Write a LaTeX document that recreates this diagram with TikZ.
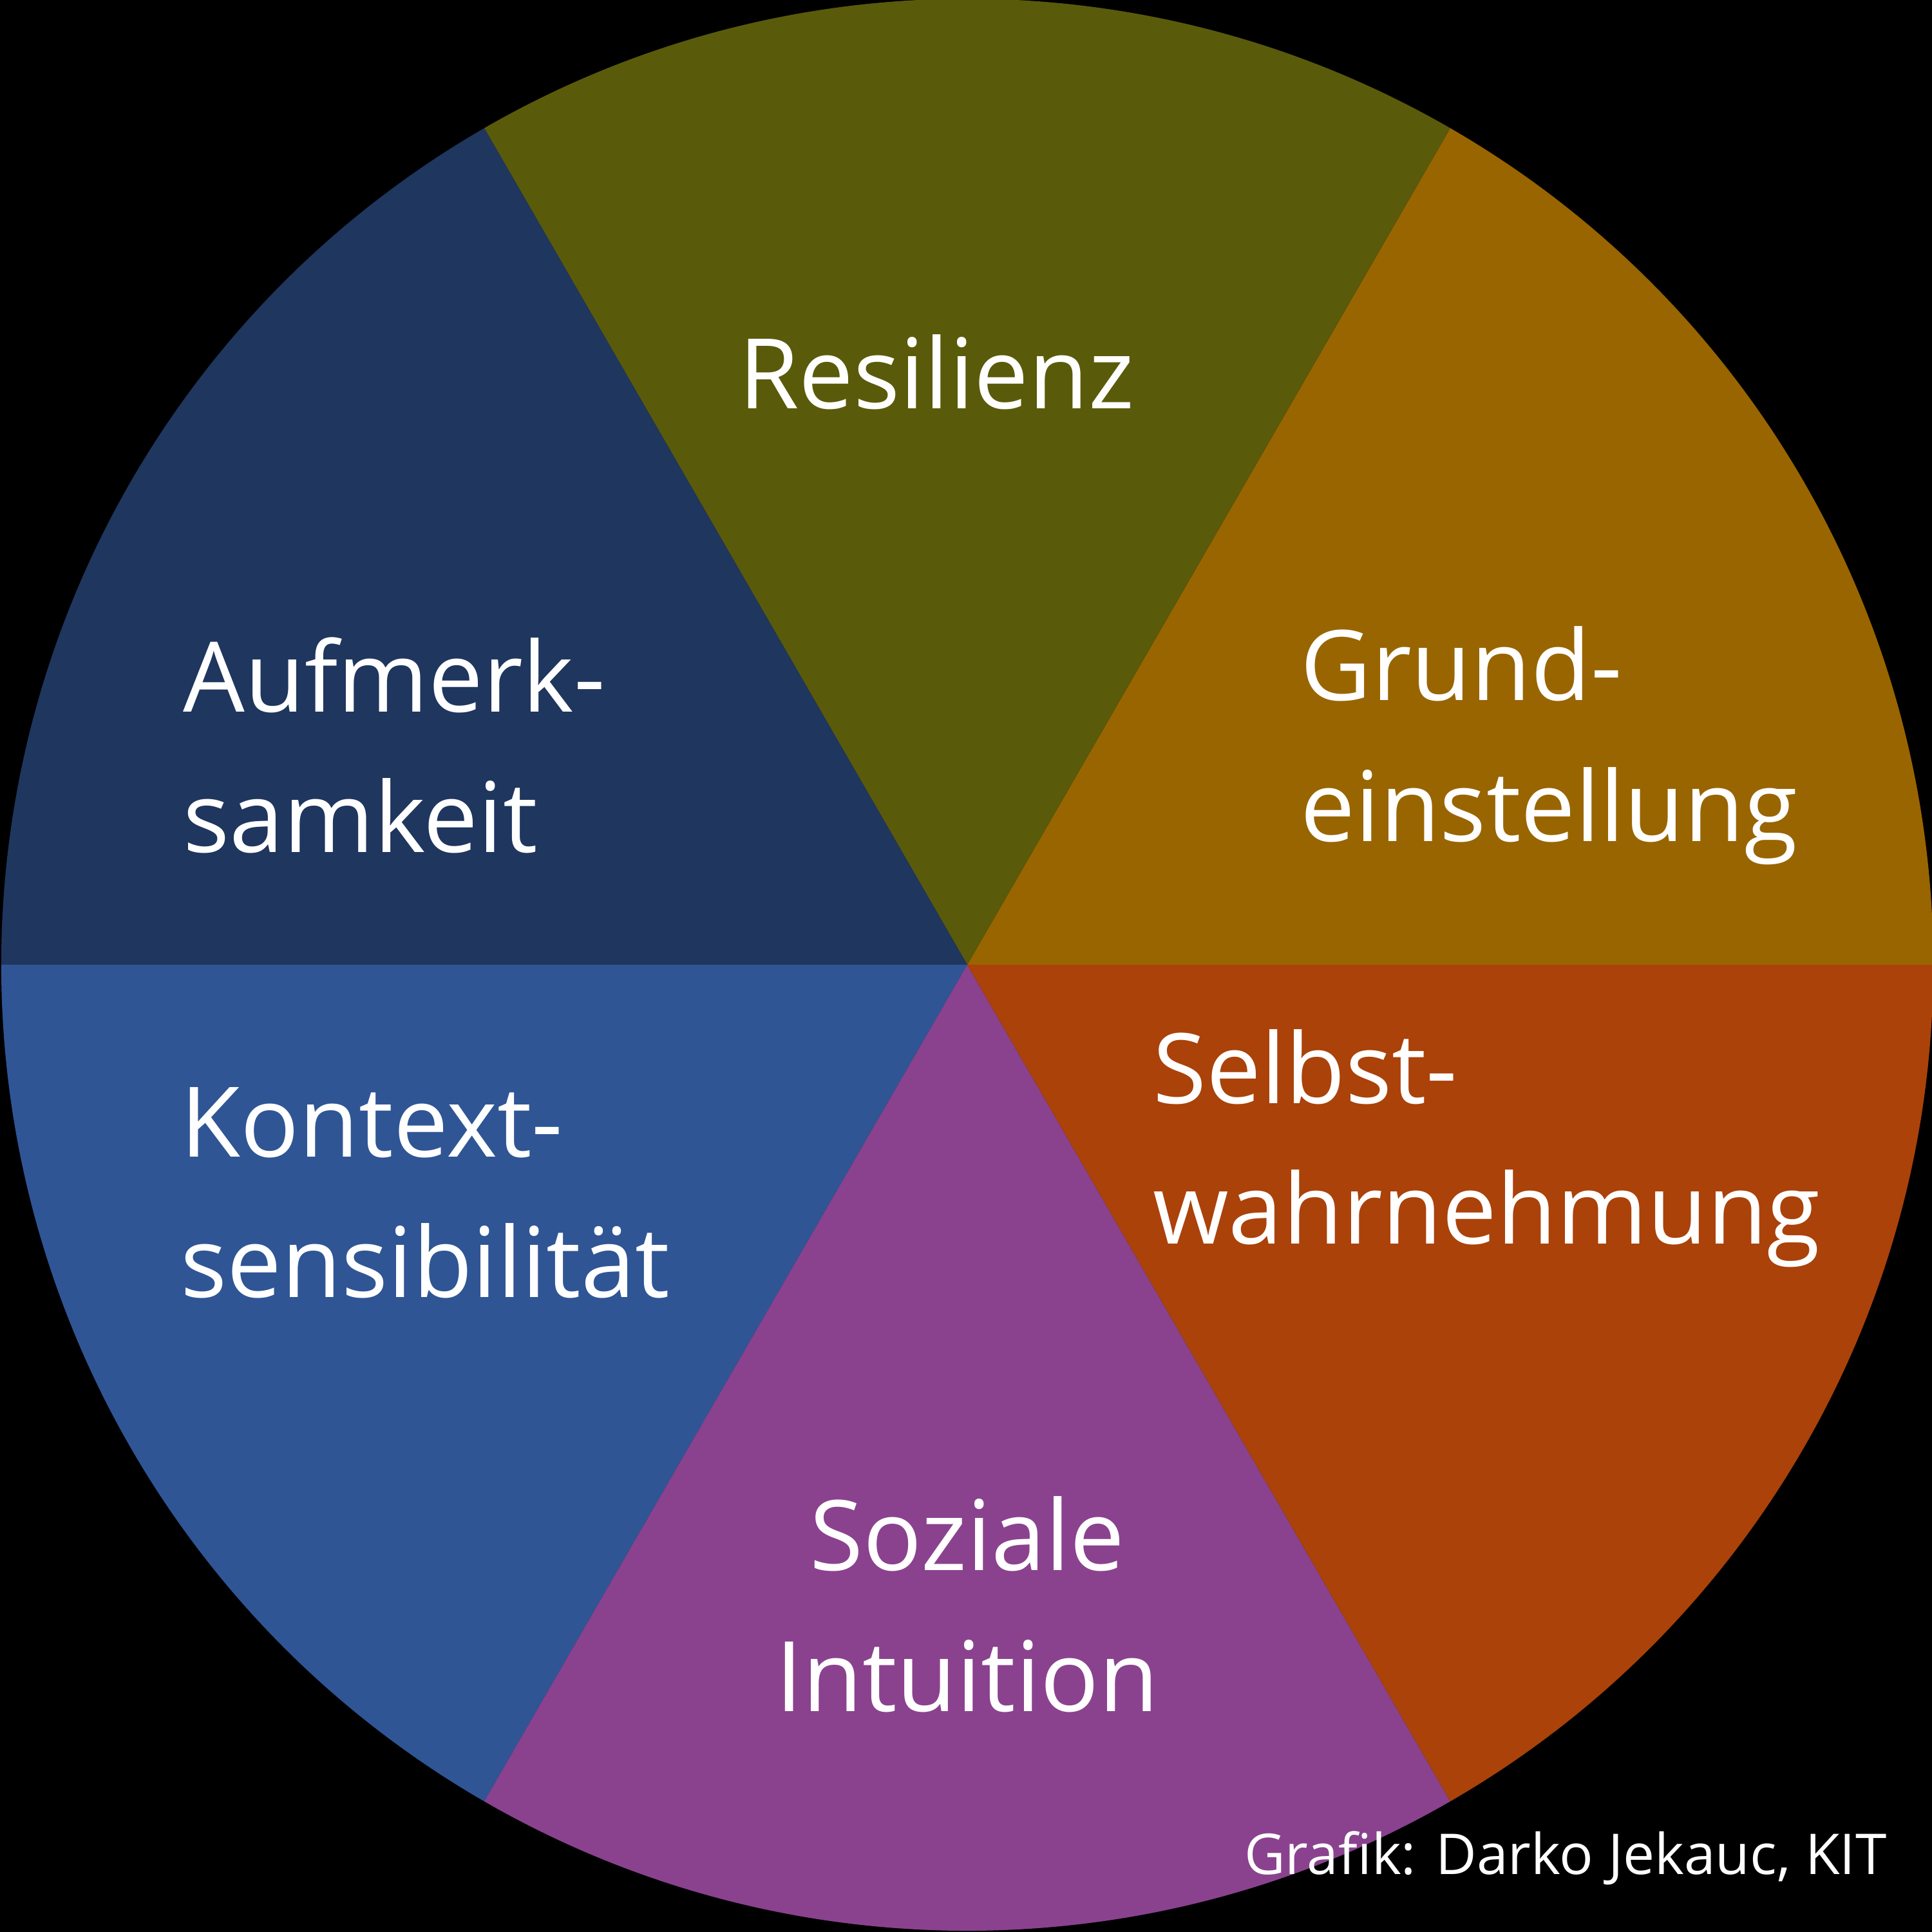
\documentclass[tikz,border=0pt]{standalone}
\usepackage{fontspec}
\setmainfont{Open Sans}
\definecolor{cRes}{HTML}{5A5A0B}
\definecolor{cGru}{HTML}{996500}
\definecolor{cSel}{HTML}{AA420A}
\definecolor{cSoz}{HTML}{8A428E}
\definecolor{cKon}{HTML}{2F5595}
\definecolor{cAuf}{HTML}{1F365E}
\begin{document}
\begin{tikzpicture}[
  lbl/.style={text=white,font=\fontsize{22.5}{32.5}\selectfont,inner sep=0pt},
  credit/.style={text=white,font=\fontsize{13}{16}\selectfont,inner sep=0pt}]
\useasboundingbox (0,0) rectangle (15.68,15.68);
\fill[black] (0,0) rectangle (15.68,15.68);
\coordinate (c) at (7.85,7.85);
\def\R{7.84}
\foreach \a/\col in {0/cGru,60/cRes,120/cAuf,180/cKon,240/cSoz,300/cSel}{
  \fill[\col] (c) -- ++(\a:\R) arc[start angle=\a,end angle=\a+60,radius=\R] -- cycle;
}
\node[lbl] (res) at (7.6,12.66) {Resilienz};
\node[lbl,anchor=west,align=left] (auf) at (1.48,9.63) {Aufmerk-\\samkeit};
\node[lbl,anchor=west,align=left] (gru) at (10.55,9.63) {Grund-\\einstellung};
\node[lbl,anchor=west,align=left] (kon) at (1.46,6.0) {Kontext-\\sensibilität};
\node[lbl,anchor=west,align=left] (sel) at (9.35,6.36) {Selbst-\\wahrnehmung};
\node[lbl,align=center] (soz) at (7.85,2.66) {Soziale\\Intuition};
\node[credit,anchor=east] (cr) at (15.32,0.6) {Grafik: Darko Jekauc, KIT};
\end{tikzpicture}
\end{document}
